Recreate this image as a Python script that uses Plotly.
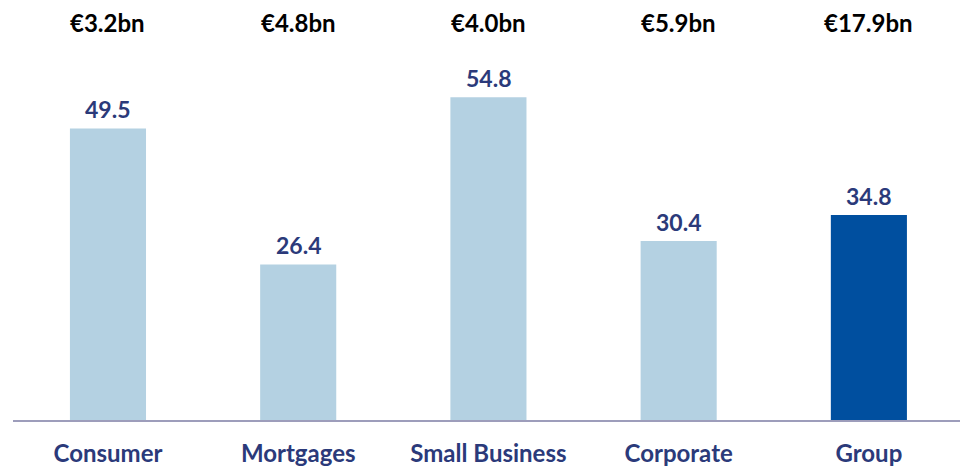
import plotly.graph_objects as go

categories = ["Consumer", "Mortgages", "Small Business", "Corporate", "Group"]
values = [49.5, 26.4, 54.8, 30.4, 34.8]
totals = ["€3.2bn", "€4.8bn", "€4.0bn", "€5.9bn", "€17.9bn"]

light = "#B4D1E2"
dark = "#004F9F"
navy = "#2B3A7A"
colors = [light, light, light, light, dark]

fig = go.Figure(
    go.Bar(
        x=categories,
        y=values,
        marker=dict(color=colors, line=dict(width=0)),
        width=0.4,
        hoverinfo="skip",
    )
)

# value labels above each bar
for cat, v in zip(categories, values):
    fig.add_annotation(
        x=cat, y=v, xref="x", yref="y", yanchor="bottom",
        text=f"<b>{v:.1f}</b>", showarrow=False, yshift=3,
        font=dict(family="Lato", size=23, color=navy),
    )

# segment totals along the top
for cat, tot in zip(categories, totals):
    fig.add_annotation(
        x=cat, y=1.0, xref="x", yref="paper", yanchor="middle",
        text=f"<b>{tot}</b>", showarrow=False,
        font=dict(family="Lato", size=24, color="#000000"),
        yshift=-22,
    )

fig.update_layout(
    width=960, height=467,
    margin=dict(l=13, r=0, t=0, b=47, autoexpand=False),
    plot_bgcolor="white", paper_bgcolor="white",
    showlegend=False,
)
fig.update_xaxes(
    range=[-0.4993, 4.479],
    automargin=False,
    showline=True, linecolor="#9D9DBB", linewidth=2,
    ticks="", showgrid=False,
    tickfont=dict(family="Lato", size=24, color=navy, weight="bold"),
    ticklabelstandoff=11,
)
fig.update_yaxes(range=[0, 71.3], visible=False, showgrid=False, automargin=False)

fig.write_html("out.html")
